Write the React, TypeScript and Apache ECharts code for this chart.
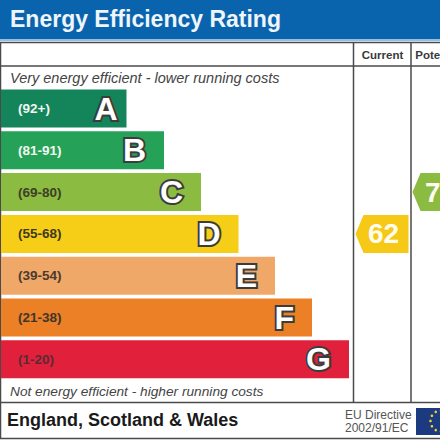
import React, { useEffect, useRef } from "react";
import * as echarts from "echarts";

const bands = ["A", "B", "C", "D", "E", "F", "G"];
const ranges = ["(92+)", "(81-91)", "(69-80)", "(55-68)", "(39-54)", "(21-38)", "(1-20)"];
const barLengths = [125.5, 163, 200, 237.5, 274, 311, 348];
const barColors = ["#14855a", "#25a257", "#8cbb42", "#f6cd17", "#f0a868", "#eb8027", "#e1213c"];
const rangeColors = ["#f2f7f2", "#f2f7f2", "#3c4028", "#3f3a20", "#4a3a30", "#40352a", "#5c2a35"];
const columns = ["Current", "Potential"];
const ratings = [
  { column: "Current", value: 62, band: "D", color: "#f6c917" },
  { column: "Potential", value: 78, band: "C", color: "#8cbb42" },
];
const euStars = 12;

const FONT = "Liberation Sans";
const LINE = "#4a4a4a";

function frame(x1: number, y1: number, x2: number, y2: number, lineWidth = 1.5) {
  return { type: "line", shape: { x1, y1, x2, y2 }, style: { stroke: LINE, lineWidth }, silent: true };
}
function text(t: string, x: number, y: number, font: string, fill: string) {
  return { type: "text", x, y, style: { text: t, font, fill, textVerticalAlign: "middle" }, silent: true };
}

export default function App() {
  const ref = useRef<HTMLDivElement>(null);
  useEffect(() => {
    const chart = echarts.init(ref.current!, null, { renderer: "svg" });
    const stars = Array.from({ length: euStars }, (_, i) => ({
      type: "circle",
      shape: {
        cx: 441 + 10.5 * Math.cos((i * 2 * Math.PI) / euStars),
        cy: 421 + 10.5 * Math.sin((i * 2 * Math.PI) / euStars),
        r: 1.3,
      },
      style: { fill: "#f2cf2a" },
      silent: true,
    }));
    chart.setOption({
      animation: false,
      backgroundColor: "#ffffff",
      title: {
        text: "Energy Efficiency Rating",
        left: 5,
        top: 2,
        textStyle: { color: "#eef5fb", fontFamily: FONT, fontWeight: "bold", fontSize: 23, letterSpacing: 0.8 },
      },
      grid: [
        { left: 1, top: 87.6, width: 440, height: 292.6, outerBoundsMode: "none" },
        { left: 354, top: 87.6, width: 114, height: 292.6, outerBoundsMode: "none" },
      ],
      xAxis: [
        { type: "value", gridIndex: 0, min: 0, max: 440, show: false },
        {
          type: "category",
          gridIndex: 1,
          data: columns,
          position: "top",
          axisLine: { show: false },
          axisTick: { show: false },
          axisLabel: {
            margin: 27,
            interval: 0,
            color: "#3a3a3a",
            fontFamily: FONT,
            fontWeight: "bold",
            fontSize: 11.5,
          },
        },
      ],
      yAxis: [
        {
          type: "category",
          gridIndex: 0,
          data: ranges,
          inverse: true,
          z: 5,
          axisLine: { show: false },
          axisTick: { show: false },
          axisLabel: {
            inside: true,
            margin: 17,
            interval: 0,
            fontFamily: FONT,
            fontWeight: "bold",
            fontSize: 13.5,
            color: (_: string, i: number) => rangeColors[i],
          },
        },
        { type: "category", gridIndex: 1, data: bands, inverse: true, show: false },
      ],
      series: [
        {
          type: "bar",
          xAxisIndex: 0,
          yAxisIndex: 0,
          barWidth: 38,
          data: barLengths.map((v, i) => ({
            value: v,
            name: bands[i],
            itemStyle: { color: barColors[i] },
            label: { distance: i === 0 ? 9 : 18 },
          })),
          label: {
            show: true,
            position: "insideRight",
            formatter: "{b}",
            color: "#ffffff",
            fontFamily: FONT,
            fontWeight: "bold",
            fontSize: 32,
            textBorderColor: "#3c3c3c",
            textBorderWidth: 4,
          },
        },
        {
          type: "custom",
          xAxisIndex: 1,
          yAxisIndex: 1,
          clip: false,
          z: 4,
          data: ratings.map((r) => ({ value: [r.column, r.band, r.value], itemStyle: { color: r.color } })),
          encode: { x: 0, y: 1 },
          renderItem: (params: any, api: any) => {
            const p = api.coord([api.value(0), api.value(1)]);
            const color = ratings[params.dataIndex].color;
            const x0 = p[0] - 27;
            const x1 = p[0] - 19;
            const x2 = p[0] + 26;
            const y0 = p[1] - 19;
            const y1 = p[1] + 19;
            return {
              type: "group",
              children: [
                {
                  type: "polygon",
                  shape: { points: [[x0, p[1]], [x1, y0], [x2, y0], [x2, y1], [x1, y1]] },
                  style: { fill: color },
                },
                {
                  type: "text",
                  x: p[0] + 1,
                  y: p[1],
                  style: {
                    text: String(api.value(2)),
                    fill: "#fffdf0",
                    font: `bold 28px ${FONT}`,
                    textAlign: "center",
                    textVerticalAlign: "middle",
                  },
                },
              ],
            };
          },
        },
      ],
      graphic: [
        { type: "rect", shape: { x: 0, y: 0, width: 440, height: 39 }, style: { fill: "#0a64ad" }, silent: true, z: -1 },
        { type: "rect", shape: { x: 0, y: 39, width: 440, height: 2 }, style: { fill: "#8fbfe3" }, silent: true, z: -1 },
        frame(0, 42.5, 440, 42.5),
        frame(0, 66, 440, 66),
        frame(0.5, 42, 0.5, 438),
        frame(353.5, 42, 353.5, 402),
        frame(411, 42, 411, 402),
        frame(0, 402.5, 440, 402.5),
        frame(0, 438.5, 440, 438.5),
        text("Very energy efficient - lower running costs", 10, 78, `italic 14.5px ${FONT}`, "#444444"),
        text("Not energy efficient - higher running costs", 10, 391, `italic 13.7px ${FONT}`, "#444444"),
        text("England, Scotland & Wales", 7, 420, `bold 18px ${FONT}`, "#1a1a1a"),
        text("EU Directive", 345, 415, `12px ${FONT}`, "#555555"),
        text("2002/91/EC", 345, 428, `12px ${FONT}`, "#555555"),
        { type: "rect", shape: { x: 416, y: 408, width: 24, height: 27 }, style: { fill: "#1b3a80" }, silent: true },
        ...stars,
      ],
    });
    return () => chart.dispose();
  }, []);
  return <div ref={ref} style={{ position: "fixed", left: 0, top: 0, width: 440, height: 440 }} />;
}
